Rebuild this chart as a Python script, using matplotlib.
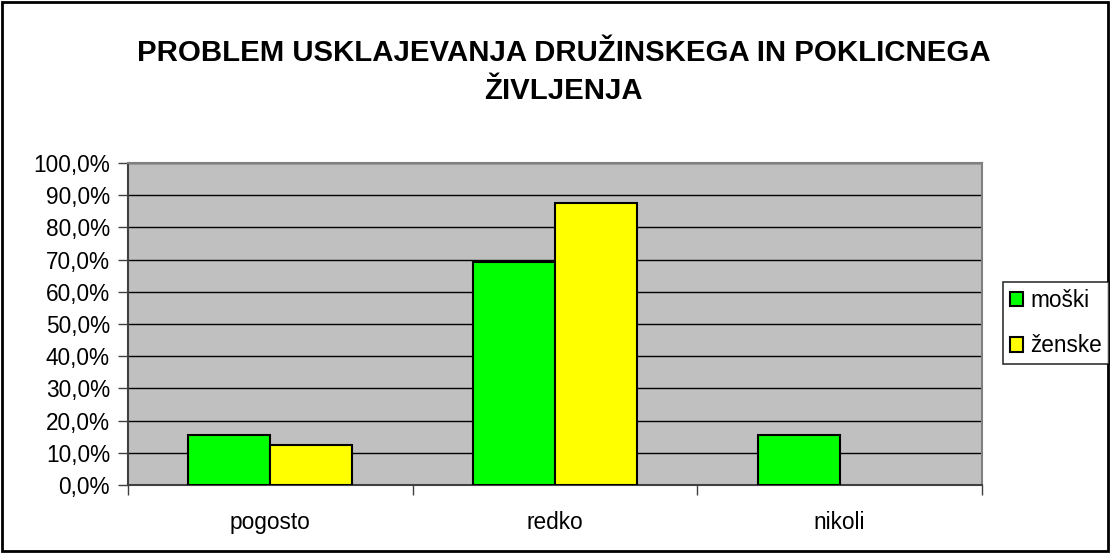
import matplotlib.pyplot as plt
import matplotlib.patches as patches
import numpy as np

plt.rcParams['font.family'] = ['Liberation Sans', 'DejaVu Sans']

categories = ['pogosto', 'redko', 'nikoli']
moski = [15.4, 69.2, 15.4]
zenske = [12.5, 87.5, 0.0]
series_labels = ['moški', 'ženske']
colors = ['#00FF00', '#FFFF00']

fig = plt.figure(figsize=(11.1, 5.53), dpi=100)
ax = fig.add_axes([128 / 1110, 68 / 553, 854 / 1110, 322 / 553])

x = np.arange(len(categories))
bar_width = 0.288
for i, (vals, lab, col) in enumerate(zip([moski, zenske], series_labels, colors)):
    bars = ax.bar(x + (i - 0.5) * bar_width, vals, bar_width, color=col, edgecolor='black',
                  linewidth=1.5, label=lab, zorder=3)
    # excel leaves empty bars out
    for b in bars:
        if b.get_height() == 0:
            b.set_visible(False)

ax.set_facecolor('#C0C0C0')
ax.set_xlim(-0.5, 2.5)
ax.set_ylim(0, 100)
ax.set_yticks(np.arange(0, 101, 10))
ax.set_yticklabels([f'{v:.1f}%'.replace('.', ',') for v in np.arange(0, 101, 10)])
ax.yaxis.grid(True, color='black', linewidth=1.0, zorder=0)
ax.set_axisbelow(True)

# category labels centred, tick marks on category boundaries
ax.set_xticks(x)
ax.set_xticklabels(categories)
ax.tick_params(axis='x', length=0, pad=18.5)
ax.set_xticks(np.arange(-0.5, 3, 1), minor=True)
ax.tick_params(axis='x', which='minor', length=7, width=1, color='#404040')
ax.tick_params(axis='y', length=7, width=1, color='#404040', pad=6)
ax.tick_params(labelsize=16.3)

for s in ['top', 'right']:
    ax.spines[s].set_color('#808080')
    ax.spines[s].set_linewidth(1.5)
for s in ['left', 'bottom']:
    ax.spines[s].set_color('#404040')
    ax.spines[s].set_linewidth(1.5)

fig.text(0.508, 1 - 72 / 553, 'PROBLEM USKLAJEVANJA DRUŽINSKEGA IN POKLICNEGA\nŽIVLJENJA',
         ha='center', va='center', fontsize=21.2, fontweight='bold', linespacing=1.45)

leg = fig.legend(loc='center left', bbox_to_anchor=(1003 / 1110, 1 - 323 / 553),
                 fontsize=16.3, frameon=True, fancybox=False, edgecolor='black',
                 handlelength=0.6, handleheight=0.6, handletextpad=0.3,
                 borderpad=0.3, labelspacing=1.0, borderaxespad=0)
leg.get_frame().set_linewidth(1.2)

fig.patches.append(patches.Rectangle((0.002, 0.003), 0.996, 0.994, transform=fig.transFigure,
                                     fill=False, edgecolor='black', linewidth=2))

fig.savefig('out.png', dpi=100)
